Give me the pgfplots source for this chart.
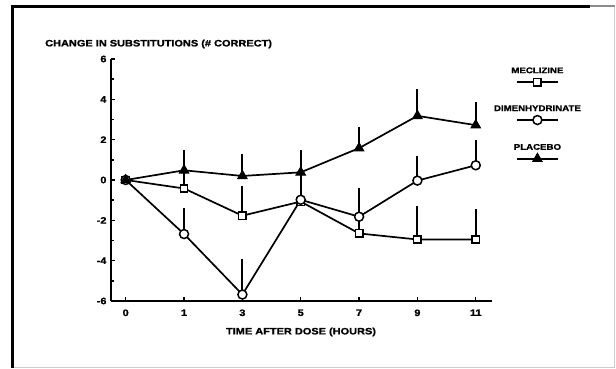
\documentclass[border=0pt]{standalone}
\usepackage{fontspec}
\setmainfont{Liberation Sans}[UprightFont=* Bold, FakeStretch=1.18, FakeBold=1.2]
\usepackage{pgfplots}
\usepackage{pgfplotstable}
\pgfplotsset{compat=1.18}
\newcommand\labfont{\fontsize{9.3bp}{11bp}\selectfont}
\newcommand\legfont{\fontsize{8.2bp}{9bp}\selectfont}

\pgfplotsset{
  leg/.style={legend image code/.code={%
    \draw[##1, mark=none] (-20.5bp,0bp) -- (20.5bp,0bp);
    \draw[##1] plot coordinates {(0bp,0bp)};
    \node[anchor=base, inner sep=0pt, font=\legfont, text=black] at (0bp,9bp) {#1};}},
  ebar/.style={error bars/.cd, y dir=plus, y explicit, error mark=none,
    error bar style={line width=2bp}},
}

\pgfplotstableread{
x y e
0 0 0
1 -0.42 0.90
2 -1.77 1.45
3 -1.07 1.45
4 -2.65 1.00
5 -2.95 1.67
6 -2.95 1.52
}\mecl

\pgfplotstableread{
x y e
0 0 0
1 -2.68 1.28
2 -5.68 1.75
3 -0.98 0.50
4 -1.82 1.42
5 -0.03 1.21
6 0.73 1.25
}\dimen

\pgfplotstableread{
x y e
0 0 0
1 0.48 0.99
2 0.20 1.07
3 0.38 1.09
4 1.58 1.05
5 3.18 1.34
6 2.72 1.16
}\placebo

\begin{document}
\begin{tikzpicture}
\useasboundingbox (0bp,0bp) rectangle (616bp,369bp);
\fill[white] (0bp,0bp) rectangle (616bp,369bp);
% frame
\draw[black!20, line width=0.8bp] (614.7bp,362.5bp) -- (614.7bp,1.3bp) -- (12.5bp,1.3bp);
\draw[black, line width=2.6bp] (12.5bp,1.3bp) -- (12.5bp,362.5bp) -- (590bp,362.5bp);
\draw[black!45, line width=2bp] (590bp,362.5bp) -- (614.7bp,362.5bp);

\begin{axis}[
  at={(111bp,68bp)}, anchor=south west,
  scale only axis, width=380.5bp, height=242bp,
  xmin=-0.252, xmax=6.27, ymin=-6, ymax=6,
  axis x line=bottom, axis y line=left,
  axis line style={-, line width=1.8bp},
  xtick={0,1,2,3,4,5,6},
  xticklabels={0,1,3,5,7,9,11},
  ytick={-6,-4,-2,0,2,4,6},
  minor ytick={-5,-3,-1,1,3,5},
  tick align=inside,
  major tick length=4bp, minor tick length=3bp,
  tick style={line width=1.4bp, black},
  ticklabel style={font=\labfont},
  xticklabel style={yshift=-5bp},
  yticklabel style={xshift=-1bp},
  /pgf/number format/assume math mode=true,
  clip=false,
  legend style={at={(1.122,0.965)}, anchor=north, draw=none, fill=none,
    inner sep=0pt, outer sep=0pt, row sep=19.5bp, column sep=0pt,
    nodes={inner sep=0pt}},
  legend plot pos=left,
]
\addplot[black, line width=1.7bp, mark=square*, mark size=3.7bp,
  mark options={fill=white, line width=1.5bp}, leg={MECLIZINE}, ebar]
  table[x=x, y=y, y error=e] {\mecl};
\addlegendentry{}
\addplot[black, line width=1.7bp, mark=*, mark size=4.5bp,
  mark options={fill=white, line width=1.5bp}, leg={DIMENHYDRINATE}, ebar]
  table[x=x, y=y, y error=e] {\dimen};
\addlegendentry{}
\addplot[black, line width=1.7bp, mark=triangle*, mark size=5.4bp,
  mark options={fill=black, line width=1bp}, leg={PLACEBO}, ebar]
  table[x=x, y=y, y error=e] {\placebo};
\addlegendentry{}
\end{axis}

\node[anchor=west, inner sep=0pt, font=\labfont] at (45bp,325bp) {CHANGE IN SUBSTITUTIONS (\# CORRECT)};
\node[inner sep=0pt, font=\labfont] at (301bp,37bp) {TIME AFTER DOSE (HOURS)};
\end{tikzpicture}
\end{document}
